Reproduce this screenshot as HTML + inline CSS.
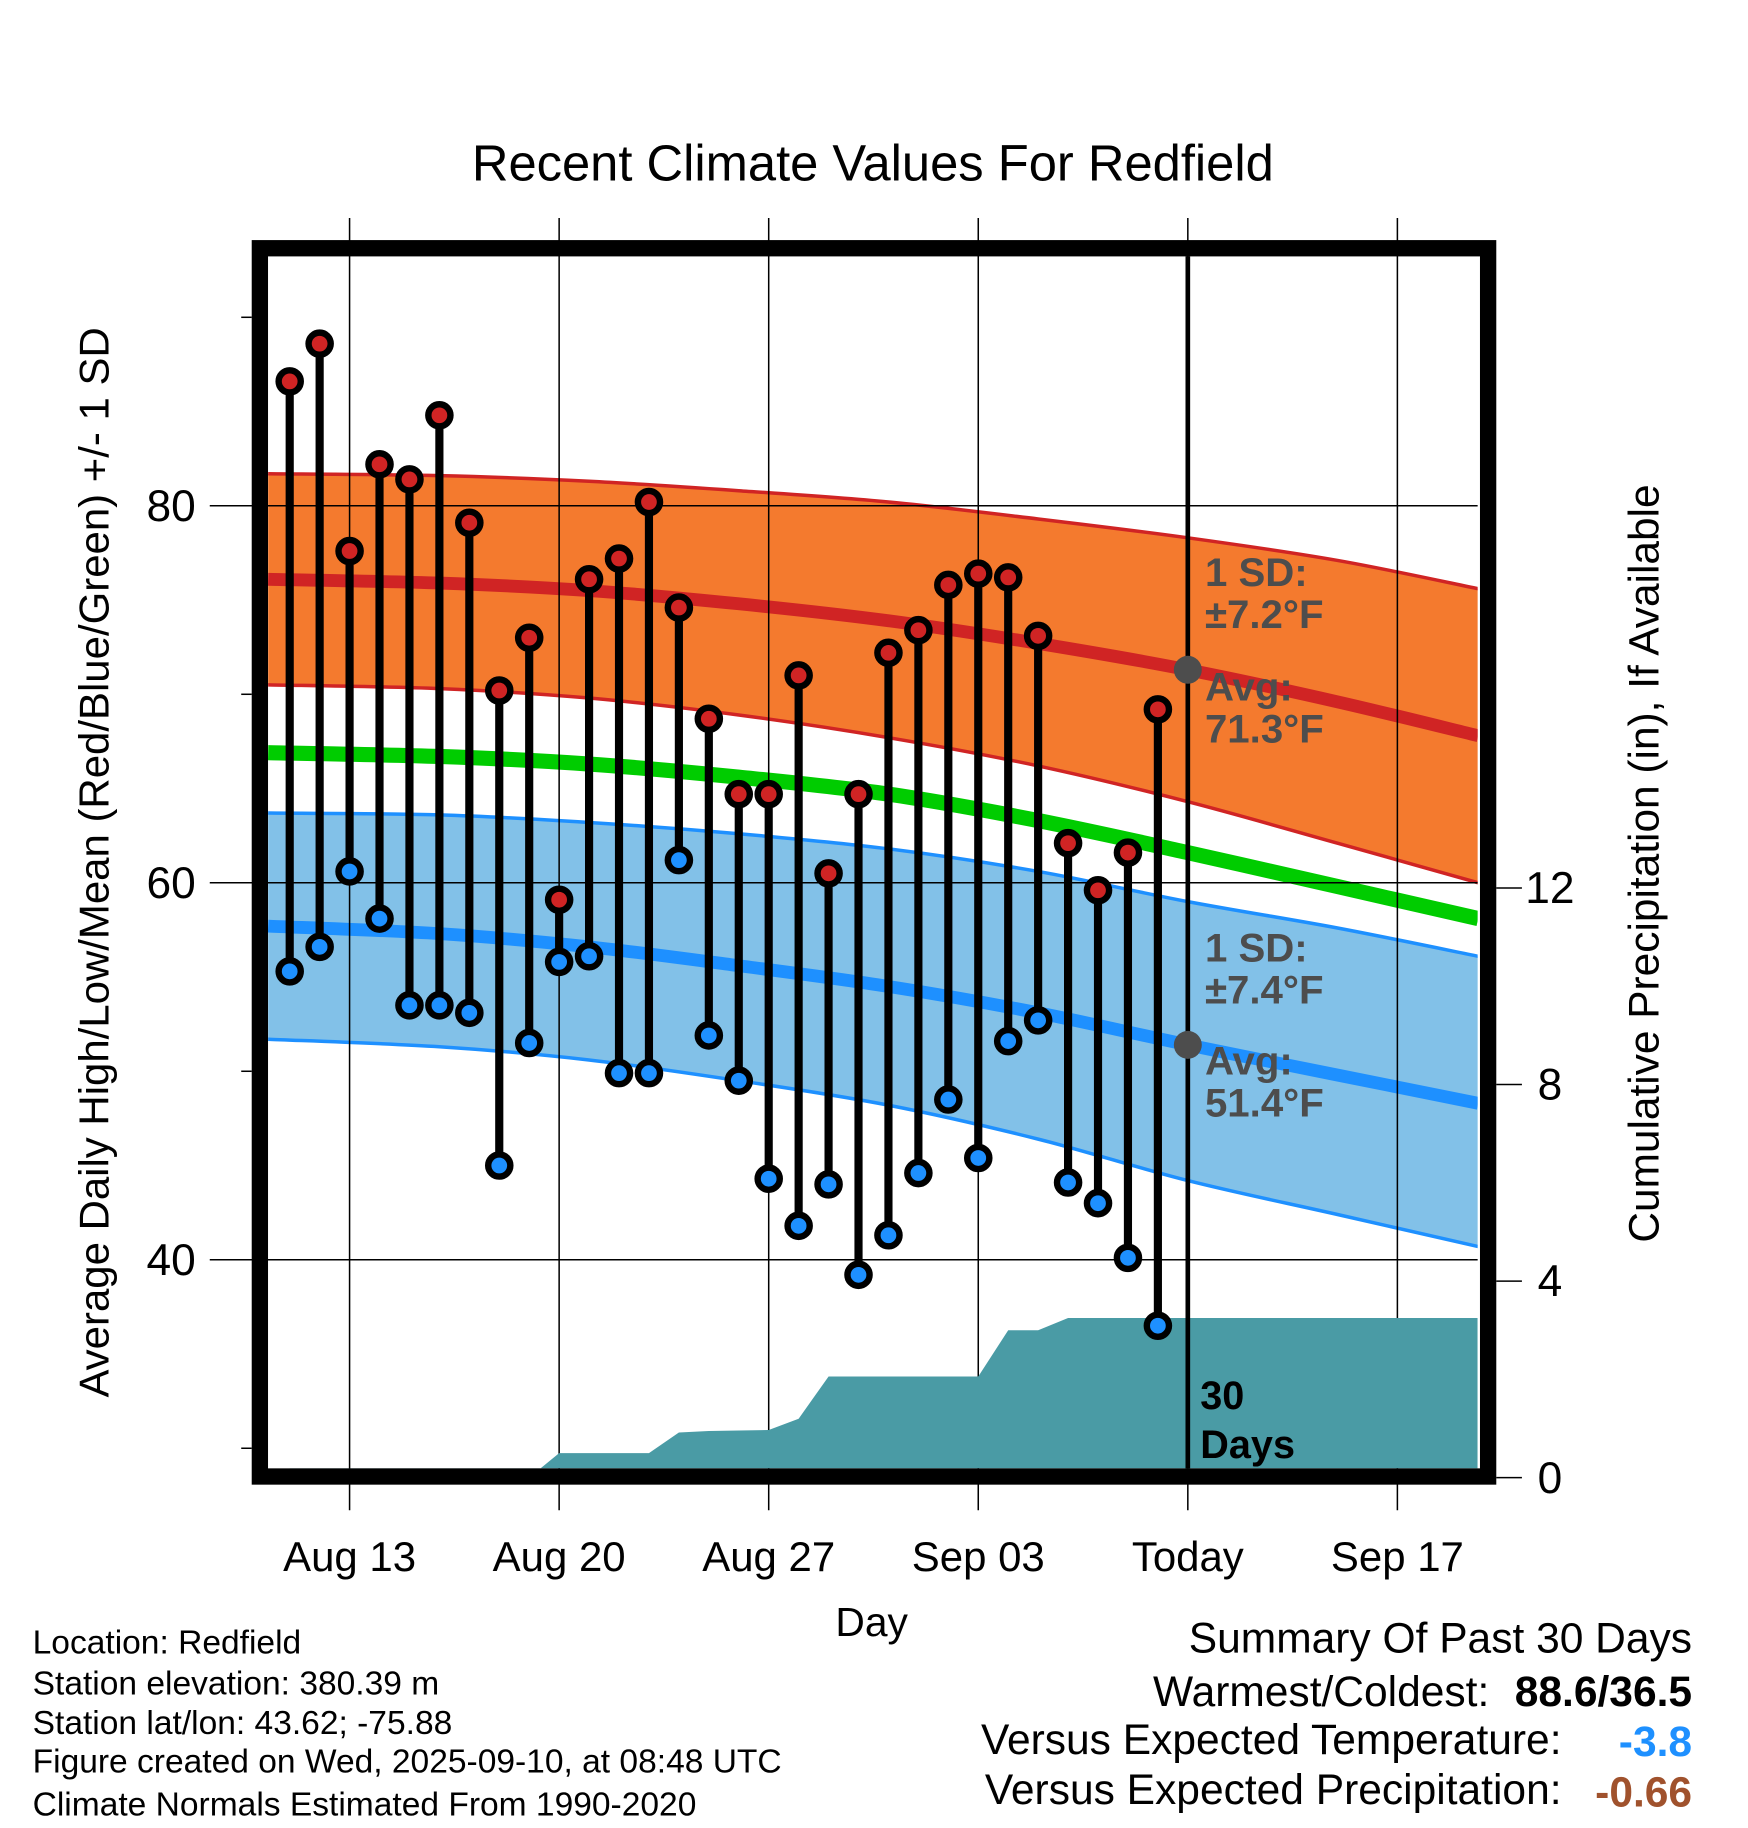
<!DOCTYPE html>
<html><head><meta charset="utf-8"><style>
html,body{margin:0;padding:0;background:#fff}
svg{display:block}
text{font-family:"Liberation Sans",Arial,sans-serif}
</style></head><body>
<svg id="chart" xmlns="http://www.w3.org/2000/svg" width="1748" height="1828" viewBox="0 0 1500 1568.6">
<g id="bands"></g><g id="grid"></g><g id="precip"></g><g id="marks"></g><g id="frame"></g><g id="labels"></g>
</svg>
<script>
// ---- data ----
const dayLabels = ["Aug 11","Aug 12","Aug 13","Aug 14","Aug 15","Aug 16","Aug 17","Aug 18","Aug 19","Aug 20","Aug 21","Aug 22","Aug 23","Aug 24","Aug 25","Aug 26","Aug 27","Aug 28","Aug 29","Aug 30","Aug 31","Sep 01","Sep 02","Sep 03","Sep 04","Sep 05","Sep 06","Sep 07","Sep 08","Sep 09"];
const highs = [86.6,88.6,77.6,82.2,81.4,84.8,79.1,70.2,73.0,59.1,76.1,77.2,80.2,74.6,68.7,64.7,64.7,71.0,60.5,64.7,72.2,73.4,75.8,76.4,76.2,73.1,62.1,59.6,61.6,69.2];
const lows = [55.3,56.6,60.6,58.1,53.5,53.5,53.1,45.0,51.5,55.8,56.1,49.9,49.9,61.2,51.9,49.5,44.3,41.8,44.0,39.2,41.3,44.6,48.5,45.4,51.6,52.7,44.1,43.0,40.1,36.5];
const precipCum = [0,0,0,0,0,0,0,0,0,0.5,0.5,0.5,0.5,0.92,0.95,0.96,0.97,1.2,2.06,2.06,2.06,2.06,2.06,2.06,3.0,3.0,3.25,3.25,3.25,3.25];
// normals sampled at day offsets (0 = Aug 11)
const normDays = [-0.72,5,10,15,20,25,30,35,39.7];
const normHighUpper = [81.7,81.6,81.3,80.8,80.2,79.3,78.3,77.1,75.6];
const normHigh = [76.1,75.9,75.5,74.8,73.9,72.7,71.3,69.6,67.8];
const normHighLower = [70.5,70.3,69.8,68.9,67.7,66.2,64.3,62.1,60.0];
const normMean = [66.9,66.7,66.3,65.6,64.7,63.3,61.6,59.8,58.1];
const normLowUpper = [63.7,63.6,63.2,62.6,61.8,60.6,59.0,57.6,56.1];
const normLow = [57.7,57.3,56.6,55.6,54.5,53.1,51.4,49.8,48.3];
const normLowLower = [51.7,51.3,50.6,49.5,48.2,46.4,44.2,42.4,40.7];
const xTickDays = [2,9,16,23,30,37];
const xTickLabels = ["Aug 13","Aug 20","Aug 27","Sep 03","Today","Sep 17"];
const yTicks = [40,60,80];
const yMinor = [30,50,70,90];
const pTicks = [0,4,8,12];

// ---- scales ----
const L=230,R=1268,T=220,B=1260;
const X = d => 248.6 + d*25.69;
const Y = v => 434 + (80 - v)*16.175;
const P = p => 1268 - p*42.17;
const NS="http://www.w3.org/2000/svg";
function mk(parent,tag,attrs,txt){const e=document.createElementNS(NS,tag);for(const k in attrs)e.setAttribute(k,attrs[k]);if(txt!==undefined)e.textContent=txt;document.getElementById(parent).appendChild(e);return e;}
function curve(p){
  let s="";
  for(let i=0;i<p.length-1;i++){const p0=p[Math.max(i-1,0)],p1=p[i],p2=p[i+1],p3=p[Math.min(i+2,p.length-1)];
    s+=" C"+(p1[0]+(p2[0]-p0[0])/6)+","+(p1[1]+(p2[1]-p0[1])/6)+" "+(p2[0]-(p3[0]-p1[0])/6)+","+(p2[1]-(p3[1]-p1[1])/6)+" "+p2[0]+","+p2[1];}
  return s;}
function smooth(arr){const p=normDays.map((d,i)=>[X(d),Y(arr[i])]);return "M"+p[0][0]+","+p[0][1]+curve(p);}
function bandPath(up,lo){
  const a=smooth(up);
  const rev=normDays.slice().reverse();const lr=lo.slice().reverse();
  const p=rev.map((d,i)=>[X(d),Y(lr[i])]);
  return a+" L"+p[0][0]+","+p[0][1]+curve(p)+"Z";}

// clip
const defs=mk("chart","defs",{});
const cp=document.createElementNS(NS,"clipPath");cp.setAttribute("id","clip");
const cr=document.createElementNS(NS,"rect");cr.setAttribute("x",L);cr.setAttribute("y",T);cr.setAttribute("width",R-L);cr.setAttribute("height",B-T);
cp.appendChild(cr);defs.appendChild(cp);
document.getElementById("bands").setAttribute("clip-path","url(#clip)");
document.getElementById("precip").setAttribute("clip-path","url(#clip)");

let e;
e=mk("bands","path",{d:bandPath(normHighUpper,normHighLower),fill:"#f47a2e",stroke:"none"});


e=mk("bands","path",{d:smooth(normHighUpper),fill:"none",stroke:"#d02424","stroke-width":3});


e=mk("bands","path",{d:smooth(normHighLower),fill:"none",stroke:"#d02424","stroke-width":3});


e=mk("bands","path",{d:smooth(normHigh),fill:"none",stroke:"#d02424","stroke-width":11});


e=mk("bands","path",{d:bandPath(normLowUpper,normLowLower),fill:"#82c1e8",stroke:"none"});


e=mk("bands","path",{d:smooth(normLowUpper),fill:"none",stroke:"#1e90ff","stroke-width":3});


e=mk("bands","path",{d:smooth(normLowLower),fill:"none",stroke:"#1e90ff","stroke-width":3});


e=mk("bands","path",{d:smooth(normLow),fill:"none",stroke:"#1e90ff","stroke-width":11});


e=mk("bands","path",{d:smooth(normMean),fill:"none",stroke:"#00cc00","stroke-width":13});



// grid
yTicks.forEach(v=>{
  e=mk("grid","line",{x1:180,x2:R,y1:Y(v),y2:Y(v),stroke:"#000","stroke-width":1.3});
  
  
  e=mk("labels","text",{x:168,y:Y(v)+13,"text-anchor":"end","font-size":38},String(v));
  
  
});
yMinor.forEach(v=>{
  e=mk("grid","line",{x1:207,x2:216,y1:Y(v),y2:Y(v),stroke:"#000","stroke-width":1.3});
  
  
});
xTickDays.forEach((d,i)=>{
  e=mk("grid","line",{x1:X(d),x2:X(d),y1:187,y2:1296,stroke:"#000","stroke-width":1.3});
  
  
  e=mk("labels","text",{x:X(d),y:1348,"text-anchor":"middle","font-size":36},xTickLabels[i]);
  
  
});
pTicks.forEach(p=>{
  e=mk("grid","line",{x1:1284,x2:1306,y1:P(p),y2:P(p),stroke:"#000","stroke-width":1.3});
  
  
  e=mk("labels","text",{x:1330,y:P(p)+13,"text-anchor":"middle","font-size":38},String(p));
  
  
});

// precip area
let pd="M"+X(0)+","+B;
precipCum.forEach((p,i)=>{pd+=" L"+X(i)+","+P(p);});
pd+=" L"+R+","+P(precipCum[precipCum.length-1])+" L"+R+","+B+"Z";
e=mk("precip","path",{d:pd,fill:"#4a9ba5"});



e=mk("marks","line",{x1:X(30),x2:X(30),y1:T,y2:B,stroke:"#000","stroke-width":4});



highs.forEach((h,i)=>{
  e=mk("marks","line",{x1:X(i),x2:X(i),y1:Y(h),y2:Y(lows[i]),stroke:"#000","stroke-width":7});
  
  
});
highs.forEach((h,i)=>{
  e=mk("marks","circle",{cx:X(i),cy:Y(h),r:9.5,fill:"#d02424",stroke:"#000","stroke-width":5.5});
  
  
  e=mk("marks","circle",{cx:X(i),cy:Y(lows[i]),r:9.5,fill:"#1e90ff",stroke:"#000","stroke-width":5.5});
  
  
});
e=mk("marks","circle",{cx:X(30),cy:Y(normHigh[6]),r:12,fill:"#4d4d4d"});


e=mk("marks","circle",{cx:X(30),cy:Y(normLow[6]),r:12,fill:"#4d4d4d"});



e=mk("frame","rect",{x:223,y:213,width:1054,height:1054,fill:"none",stroke:"#000","stroke-width":14});



const ann=[["1 SD:",503],["±7.2°F",539],["Avg:",601],["71.3°F",637],["1 SD:",825],["±7.4°F",861],["Avg:",922],["51.4°F",958]];
ann.forEach(a=>{
  e=mk("labels","text",{x:1034,y:a[1],"font-size":34.5,"font-weight":"bold",fill:"#4d4d4d"},a[0]);
  
  
});
e=mk("labels","text",{x:1030,y:1209,"font-size":34,"font-weight":"bold"},"30");


e=mk("labels","text",{x:1030,y:1251,"font-size":34,"font-weight":"bold"},"Days");


</script>
<svg style="position:absolute;left:0;top:0" width="1748" height="1828" viewBox="0 0 1500 1568.6" xmlns="http://www.w3.org/2000/svg">
<text x="749" y="155" text-anchor="middle" font-size="43.5">Recent Climate Values For Redfield</text>
<text transform="translate(93,740) rotate(-90)" text-anchor="middle" font-size="36">Average Daily High/Low/Mean (Red/Blue/Green) +/- 1 SD</text>
<text transform="translate(1423,741) rotate(-90)" text-anchor="middle" font-size="36.4">Cumulative Precipitation (in), If Available</text>
<text x="748" y="1404" text-anchor="middle" font-size="35">Day</text>
<g font-size="28.8">
<text x="28" y="1419">Location: Redfield</text>
<text x="28" y="1454">Station elevation: 380.39 m</text>
<text x="28" y="1488">Station lat/lon: 43.62; -75.88</text>
<text x="28" y="1521">Figure created on Wed, 2025-09-10, at 08:48 UTC</text>
<text x="28" y="1558">Climate Normals Estimated From 1990-2020</text>
</g>
<g font-size="36.5">
<text x="1452" y="1418" text-anchor="end">Summary Of Past 30 Days</text>
<text x="1278" y="1464" text-anchor="end">Warmest/Coldest:</text>
<text x="1452" y="1464" text-anchor="end" font-weight="bold">88.6/36.5</text>
<text x="1340" y="1505" text-anchor="end">Versus Expected Temperature:</text>
<text x="1452" y="1507" text-anchor="end" font-weight="bold" fill="#1e90ff">-3.8</text>
<text x="1340" y="1548" text-anchor="end">Versus Expected Precipitation:</text>
<text x="1452" y="1550" text-anchor="end" font-weight="bold" fill="#a0522d">-0.66</text>
</g>
</svg>
</body></html>
